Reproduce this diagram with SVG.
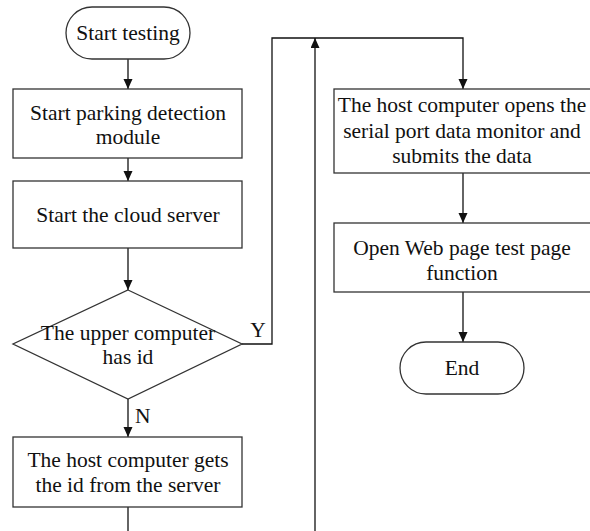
<svg xmlns="http://www.w3.org/2000/svg" width="590" height="531" viewBox="0 0 590 531" font-family="'Liberation Serif', 'Times New Roman', 'DejaVu Serif', serif">
<defs>
<marker id="ah" markerUnits="userSpaceOnUse" markerWidth="10" markerHeight="12" refX="10" refY="4.5" orient="auto">
<path d="M0,0 L10,4.5 L0,9 Z" fill="#111"/>
</marker>
<style>
.shape{fill:#fff;stroke:#333;stroke-width:1.3}
.conn{fill:none;stroke:#111;stroke-width:1.3}
text{font-family:'Liberation Serif','Times New Roman','DejaVu Serif',serif;font-size:21.5px;fill:#111;text-anchor:middle}
</style>
</defs>
<rect width="590" height="531" fill="#fff"/>
<g id="connectors">
<line class="conn" x1="128" y1="59" x2="128" y2="89" marker-end="url(#ah)"/>
<line class="conn" x1="128" y1="158" x2="128" y2="181" marker-end="url(#ah)"/>
<line class="conn" x1="128" y1="248" x2="128" y2="290" marker-end="url(#ah)"/>
<line class="conn" x1="128" y1="399" x2="128" y2="437" marker-end="url(#ah)"/>
<line class="conn" x1="128" y1="507" x2="128" y2="531"/>
<polyline class="conn" points="242,344 272,344 272,38 463,38 463,89" marker-end="url(#ah)"/>
<line class="conn" x1="315" y1="531" x2="315" y2="38" marker-end="url(#ah)"/>
<line class="conn" x1="463" y1="173" x2="463" y2="223" marker-end="url(#ah)"/>
<line class="conn" x1="463" y1="292" x2="463" y2="342" marker-end="url(#ah)"/>
<text x="258" y="337">Y</text>
<text x="135" y="423" style="text-anchor:start">N</text>
</g>
<g id="start">
<rect class="shape" x="66" y="7" width="124" height="52" rx="26"/>
<text x="128" y="40">Start testing</text>
</g>
<g id="parking">
<rect class="shape" x="13" y="89" width="229" height="69"/>
<text x="128" y="120">Start parking detection</text>
<text x="128" y="144">module</text>
</g>
<g id="cloud">
<rect class="shape" x="13" y="181" width="229" height="67"/>
<text x="128" y="222">Start the cloud server</text>
</g>
<g id="decision">
<polygon class="shape" points="128,290 242,344 128,399 13,344" style="fill:none"/>
<text x="128" y="340">The upper computer</text>
<text x="128" y="364">has id</text>
</g>
<g id="getid">
<rect class="shape" x="13" y="437" width="229" height="70"/>
<text x="128" y="467">The host computer gets</text>
<text x="128" y="492">the id from the server</text>
</g>
<g id="monitor">
<rect class="shape" x="334" y="89" width="257" height="84"/>
<text x="462" y="112">The host computer opens the</text>
<text x="462" y="138">serial port data monitor and</text>
<text x="462" y="163">submits the data</text>
</g>
<g id="webtest">
<rect class="shape" x="334" y="223" width="257" height="69"/>
<text x="462" y="255">Open Web page test page</text>
<text x="462" y="280">function</text>
</g>
<g id="end">
<rect class="shape" x="400" y="342" width="124" height="52" rx="26"/>
<text x="462" y="375">End</text>
</g>
</svg>
